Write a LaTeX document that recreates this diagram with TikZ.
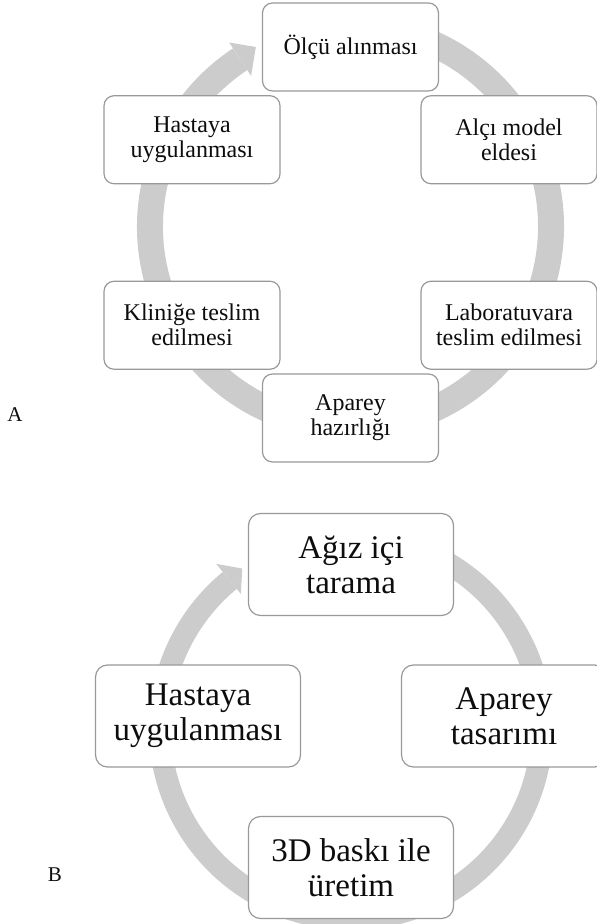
\documentclass[tikz,border=0pt]{standalone}
\usepackage{fontspec}
\setmainfont{Liberation Serif}
\begin{document}
\begin{tikzpicture}[
        x=0.5pt, y=0.5pt,
        stage/.style={draw=black!40, line width=0.6pt, fill=white, rounded corners=5pt,
            minimum width=88pt, minimum height=44pt, inner sep=0pt, align=center,
            text=black!95, font=\fontsize{12}{12.5}\selectfont},
        bigstage/.style={stage, rounded corners=6pt, minimum width=102.5pt,
            minimum height=51pt, font=\fontsize{16.5}{17.5}\selectfont},
        ring/.style={draw=black!20, line width=#1},
        tag/.style={text=black!95, font=\fontsize{10.5}{12}\selectfont},
    ]
    \clip (0,0) rectangle (597,924);

    \begin{scope}[shift={(350.5,697.4)}]
        \draw[ring=13pt] (80:200.5) arc[start angle=80, end angle=-236.6, radius=200.5];
        \fill[black!20] (123.4:220.5) -- (123.4:180.5) -- (117.8:203) -- cycle;
    \end{scope}
    \begin{scope}[shift={(350.5,691.5)}]
        \node[stage] (olcu) at (90:183 and 185.5) {Ölçü alınması};
        \node[stage] (alci) at (30:183 and 185.5) {Alçı model\\eldesi};
        \node[stage] (lab) at (-30:183 and 185.5) {Laboratuvara\\teslim edilmesi};
        \node[stage] (aparey) at (-90:183 and 185.5) {Aparey\\hazırlığı};
        \node[stage] (klinik) at (-150:183 and 185.5) {Kliniğe teslim\\edilmesi};
        \node[stage] (hasta) at (150:183 and 185.5) {Hastaya\\uygulanması};
    \end{scope}
    \node[tag] (labA) at (15,509) {A};

    \begin{scope}[shift={(351,196)}]
        \draw[ring=11pt] (80:191) arc[start angle=80, end angle=-230.6, radius=191];
        \fill[black!20] (129.4:212.5) -- (129.4:173.5) -- (124.3:193) -- cycle;
    \end{scope}
    \begin{scope}[shift={(351,208)}]
        \node[bigstage] (tarama) at (90:153 and 151.5) {Ağız içi\\tarama};
        \node[bigstage] (tasarim) at (0:153 and 151.5) {Aparey\\tasarımı};
        \node[bigstage] (uretim) at (-90:153 and 151.5) {3D baskı ile\\üretim};
        \node[bigstage] (hastaB) at (180:153 and 151.5) {Hastaya\\uygulanması};
    \end{scope}
    \node[tag] (labB) at (55,49) {B};

\end{tikzpicture}
\end{document}
